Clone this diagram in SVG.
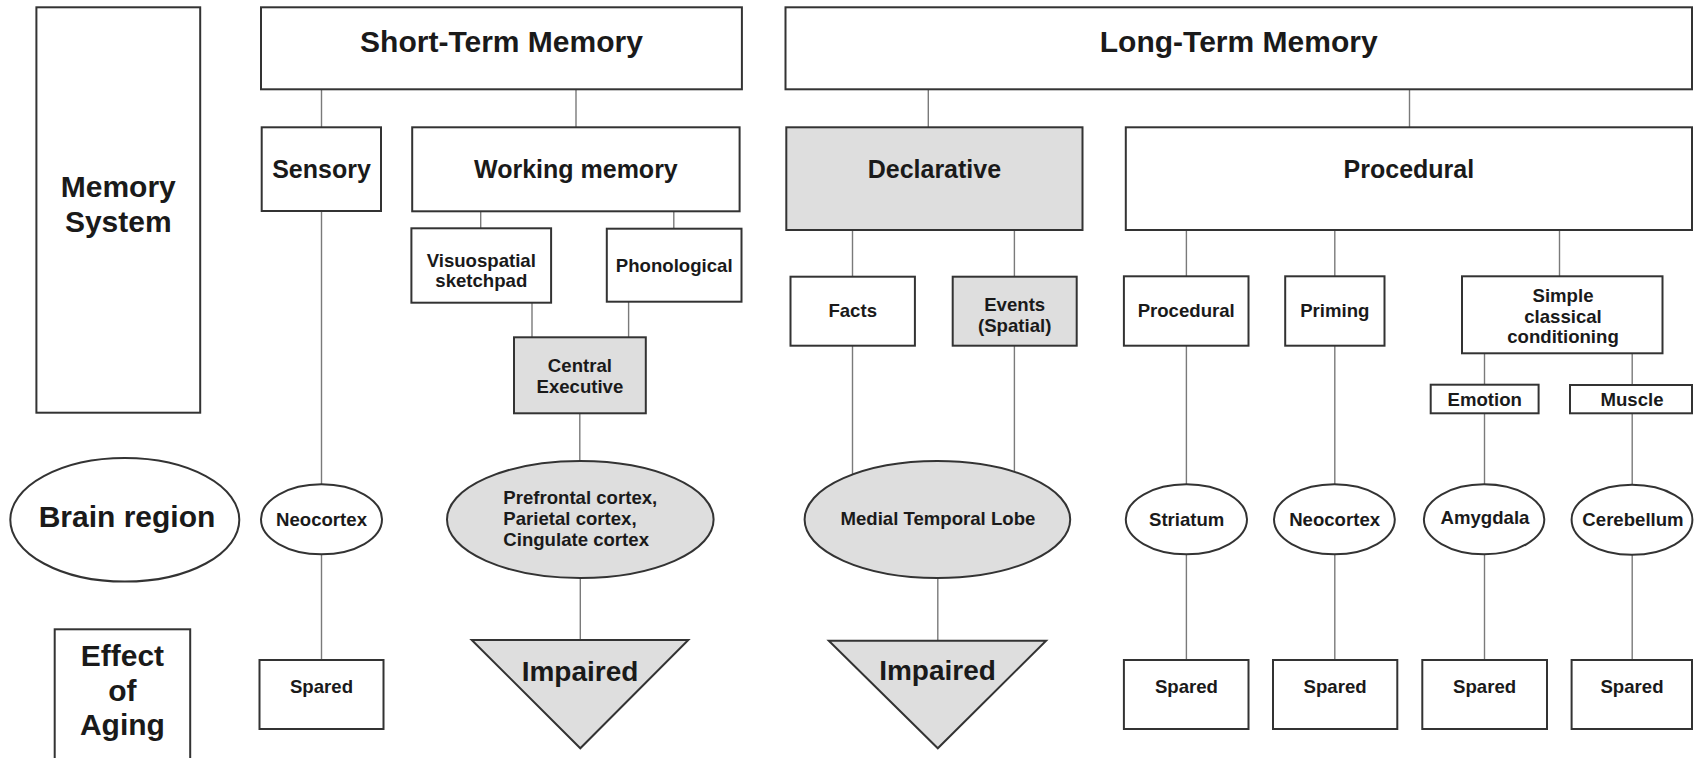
<svg xmlns="http://www.w3.org/2000/svg" width="1694" height="758" viewBox="0 0 1694 758">
<style>
.bx{fill:#fff;stroke:#333;stroke-width:2}
.gy{fill:#dedede;stroke:#333;stroke-width:2}
.cn line{stroke:#7a7a7a;stroke-width:1.4}
text{font-family:"Liberation Sans",Arial,Helvetica,sans-serif;font-weight:bold;fill:#1a1a1a;text-anchor:middle}
.L{font-size:30px}
.M{font-size:25px}
.S{font-size:18.6px}
.I{font-size:28px}
</style>
<rect width="1694" height="758" fill="#fff"/>
<g class="cn" id="connectors">
<line x1="321.5" y1="89.3" x2="321.5" y2="127.3"/>
<line x1="576" y1="89.3" x2="576" y2="127.3"/>
<line x1="480.7" y1="211.3" x2="480.7" y2="228.3"/>
<line x1="673.8" y1="211.3" x2="673.8" y2="228.7"/>
<line x1="532" y1="302.7" x2="532" y2="337.3"/>
<line x1="628.6" y1="301.7" x2="628.6" y2="337.3"/>
<line x1="321.5" y1="211" x2="321.5" y2="484.3"/>
<line x1="321.5" y1="554.3" x2="321.5" y2="660"/>
<line x1="579.8" y1="413.3" x2="579.8" y2="461"/>
<line x1="580.3" y1="578" x2="580.3" y2="640"/>
<line x1="928.3" y1="89.3" x2="928.3" y2="127.3"/>
<line x1="1409.5" y1="89.3" x2="1409.5" y2="127.3"/>
<line x1="852.5" y1="230" x2="852.5" y2="276.7"/>
<line x1="1014.4" y1="230" x2="1014.4" y2="276.7"/>
<line x1="852.5" y1="345.7" x2="852.5" y2="474.5"/>
<line x1="1014.4" y1="345.7" x2="1014.4" y2="471.8"/>
<line x1="937.8" y1="578" x2="937.8" y2="640.7"/>
<line x1="1186.4" y1="230" x2="1186.4" y2="276.3"/>
<line x1="1334.8" y1="230" x2="1334.8" y2="276.3"/>
<line x1="1559.5" y1="230" x2="1559.5" y2="276.3"/>
<line x1="1484.5" y1="353.3" x2="1484.5" y2="384.7"/>
<line x1="1632.2" y1="353.3" x2="1632.2" y2="385"/>
<line x1="1186.4" y1="345.7" x2="1186.4" y2="484.3"/>
<line x1="1186.4" y1="554.3" x2="1186.4" y2="660"/>
<line x1="1334.8" y1="345.7" x2="1334.8" y2="484.3"/>
<line x1="1334.8" y1="554.3" x2="1334.8" y2="660"/>
<line x1="1484.5" y1="413.3" x2="1484.5" y2="484.3"/>
<line x1="1484.5" y1="554.3" x2="1484.5" y2="660"/>
<line x1="1632.2" y1="413.3" x2="1632.2" y2="485"/>
<line x1="1632.2" y1="555" x2="1632.2" y2="660"/>
</g>
<g id="memory-system"><rect class="bx" x="36.4" y="7.3" width="163.8" height="405.4"/><text class="L" x="118.3" y="196.7">Memory</text><text class="L" x="118.3" y="231.7">System</text></g>
<g id="brain-region"><ellipse class="bx" cx="124.8" cy="519.8" rx="114.5" ry="61.8"/><text class="L" x="127" y="526.7">Brain region</text></g>
<g id="effect-of-aging"><rect class="bx" x="54.7" y="629.3" width="135.5" height="140"/><text class="L" x="122.4" y="666">Effect</text><text class="L" x="122.4" y="700.7">of</text><text class="L" x="122.4" y="735">Aging</text></g>
<g id="stm"><rect class="bx" x="261" y="7.3" width="480.9" height="82"/><text class="L" x="501.5" y="51.7">Short-Term Memory</text></g>
<g id="ltm"><rect class="bx" x="785.5" y="7.3" width="906.5" height="82"/><text class="L" x="1238.7" y="51.7">Long-Term Memory</text></g>
<g id="sensory"><rect class="bx" x="261.7" y="127.3" width="119.3" height="83.7"/><text class="M" x="321.5" y="178.3">Sensory</text></g>
<g id="working-memory"><rect class="bx" x="412.2" y="127.3" width="327.4" height="84"/><text class="M" x="575.9" y="178.3">Working memory</text></g>
<g id="visuospatial"><rect class="bx" x="411.4" y="228.3" width="139.7" height="74.4"/><text class="S" x="481.3" y="266.7">Visuospatial</text><text class="S" x="481.3" y="286.5">sketchpad</text></g>
<g id="phonological"><rect class="bx" x="606.8" y="228.7" width="134.7" height="73"/><text class="S" x="674.2" y="271.7">Phonological</text></g>
<g id="central-executive"><rect class="gy" x="514" y="337.3" width="131.8" height="76"/><text class="S" x="579.9" y="371.7">Central</text><text class="S" x="579.9" y="393">Executive</text></g>
<g id="neocortex-1"><ellipse class="bx" cx="321.5" cy="519.3" rx="60.5" ry="35"/><text class="S" x="321.5" y="526.2">Neocortex</text></g>
<g id="prefrontal"><ellipse class="gy" cx="580.3" cy="519.5" rx="133.3" ry="58.5"/><text class="S" x="503.3" y="503.5" style="text-anchor:start">Prefrontal cortex,</text><text class="S" x="503.3" y="524.7" style="text-anchor:start">Parietal cortex,</text><text class="S" x="503.3" y="545.7" style="text-anchor:start">Cingulate cortex</text></g>
<g id="spared-1"><rect class="bx" x="259.5" y="660" width="124" height="69"/><text class="S" x="321.5" y="692.7">Spared</text></g>
<g id="impaired-1"><polygon class="gy" points="471.7,640 688.3,640 580.3,748.3"/><text class="I" x="580" y="680.7">Impaired</text></g>
<g id="declarative"><rect class="gy" x="786.3" y="127.3" width="296.2" height="102.7"/><text class="M" x="934.4" y="178.3">Declarative</text></g>
<g id="procedural"><rect class="bx" x="1125.8" y="127.3" width="566.2" height="102.7"/><text class="M" x="1408.9" y="178.3">Procedural</text></g>
<g id="facts"><rect class="bx" x="790.5" y="276.7" width="124.4" height="69"/><text class="S" x="852.7" y="316.7">Facts</text></g>
<g id="events"><rect class="gy" x="952.7" y="276.7" width="124" height="69"/><text class="S" x="1014.7" y="311">Events</text><text class="S" x="1014.7" y="331.7">(Spatial)</text></g>
<g id="mtl"><ellipse class="gy" cx="937.4" cy="519.5" rx="132.8" ry="58.5"/><text class="S" x="937.9" y="524.5">Medial Temporal Lobe</text></g>
<g id="impaired-2"><polygon class="gy" points="828.8,640.7 1046.1,640.7 937.8,748.3"/><text class="I" x="937.5" y="679.5">Impaired</text></g>
<g id="procedural-2"><rect class="bx" x="1123.9" y="276.3" width="124.6" height="69.4"/><text class="S" x="1186.2" y="316.7">Procedural</text></g>
<g id="priming"><rect class="bx" x="1285.2" y="276.3" width="99.3" height="69.4"/><text class="S" x="1334.8" y="316.7">Priming</text></g>
<g id="scc"><rect class="bx" x="1462" y="276.3" width="200.5" height="77"/><text class="S" x="1563" y="301.7">Simple</text><text class="S" x="1563" y="322.7">classical</text><text class="S" x="1563" y="343.3">conditioning</text></g>
<g id="emotion"><rect class="bx" x="1430.7" y="384.7" width="107.9" height="28.6"/><text class="S" x="1484.7" y="406">Emotion</text></g>
<g id="muscle"><rect class="bx" x="1570" y="385" width="122" height="28.3"/><text class="S" x="1632" y="406">Muscle</text></g>
<g id="striatum"><ellipse class="bx" cx="1186.4" cy="519.3" rx="60.6" ry="35"/><text class="S" x="1186.7" y="526.2">Striatum</text></g>
<g id="neocortex-2"><ellipse class="bx" cx="1334.4" cy="519.3" rx="60.4" ry="35"/><text class="S" x="1334.6" y="526.2">Neocortex</text></g>
<g id="amygdala"><ellipse class="bx" cx="1484.1" cy="519.3" rx="60.2" ry="35"/><text class="S" x="1485" y="524">Amygdala</text></g>
<g id="cerebellum"><ellipse class="bx" cx="1632" cy="519.8" rx="60.4" ry="35"/><text class="S" x="1633" y="525.5">Cerebellum</text></g>
<g id="spared-2"><rect class="bx" x="1123.9" y="660" width="124.6" height="69"/><text class="S" x="1186.4" y="692.7">Spared</text></g>
<g id="spared-3"><rect class="bx" x="1273" y="660" width="124.3" height="69"/><text class="S" x="1335.1" y="692.7">Spared</text></g>
<g id="spared-4"><rect class="bx" x="1422.3" y="660" width="124.7" height="69"/><text class="S" x="1484.6" y="692.7">Spared</text></g>
<g id="spared-5"><rect class="bx" x="1571.6" y="660" width="120.4" height="69"/><text class="S" x="1632" y="692.7">Spared</text></g>
</svg>
